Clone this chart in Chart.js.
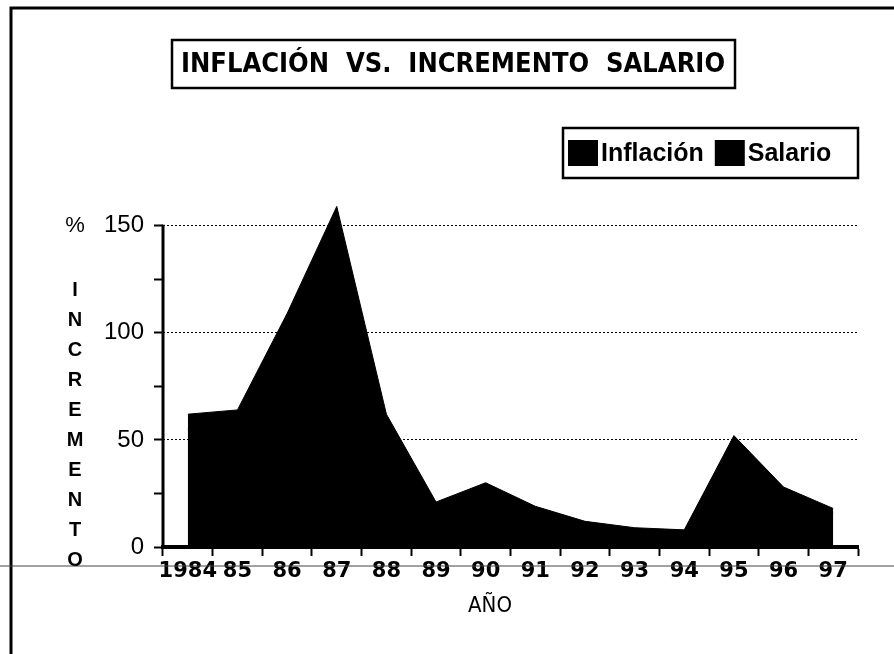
<!DOCTYPE html>
<html>
<head>
<meta charset="utf-8">
<script src="https://cdn.jsdelivr.net/npm/chart.js@4"></script>
<style>
  html, body { margin: 0; padding: 0; background: #fff; }
  #wrap { width: 894px; height: 654px; }
</style>
</head>
<body>
<div id="wrap"><canvas id="chart" width="894" height="654"></canvas></div>
<script>
// values (both series are printed solid black)
const years = ['1984', '85', '86', '87', '88', '89', '90', '91', '92', '93', '94', '95', '96', '97'];
const inflacion = [62, 64, 109, 159, 62, 21, 30, 19, 12, 9, 8, 52, 28, 18];
const salario = [55, 58, 95, 140, 55, 18, 26, 17, 11, 8, 7, 45, 25, 16];
const yTickValues = [0, 25, 50, 75, 100, 125, 150];
const yLabels = [0, 50, 100, 150];
const seriesNames = ['Inflación', 'Salario'];

const chartTitle = 'INFLACIÓN  VS.  INCREMENTO  SALARIO';
const yTitle = 'INCREMENTO';
const xTitle = 'AÑO';

const narrow = '"Liberation Sans Narrow", "DejaVu Sans Condensed", "Liberation Sans", sans-serif';
const sans = '"Liberation Sans", Arial, sans-serif';
const wide = '"DejaVu Sans", sans-serif';

const decorations = {
    id: 'decorations',
    beforeDraw(chart) {
        const ctx = chart.ctx;
        ctx.save();
        ctx.fillStyle = '#fff';
        ctx.fillRect(0, 0, chart.width, chart.height);
        ctx.restore();
    },
    afterDraw(chart) {
        const ctx = chart.ctx;
        const yScale = chart.scales.y;
        const axisX = yScale.right;
        ctx.save();
        ctx.strokeStyle = '#000';
        ctx.fillStyle = '#000';

        // y axis line, 0 to 150 only
        const yTop = yScale.getPixelForValue(150);
        const yBottom = yScale.getPixelForValue(0);
        ctx.fillRect(axisX - 1.5, yTop - 1, 3, yBottom - yTop + 3);

        // page frame
        ctx.lineWidth = 3;
        ctx.beginPath();
        ctx.moveTo(11, chart.height);
        ctx.lineTo(11, 8);
        ctx.lineTo(chart.width, 8);
        ctx.stroke();

        // fold line of the scan
        ctx.lineWidth = 1;
        ctx.strokeStyle = '#444';
        ctx.beginPath();
        ctx.moveTo(0, 566);
        ctx.lineTo(chart.width, 566);
        ctx.stroke();
        ctx.strokeStyle = '#000';

        // title box
        ctx.lineWidth = 2.5;
        ctx.strokeRect(172, 40, 563, 48);
        ctx.font = 'bold 27px ' + narrow;
        ctx.textAlign = 'center';
        ctx.textBaseline = 'middle';
        ctx.fillText(chartTitle, 453, 65);

        // legend box
        ctx.strokeRect(563, 128, 295, 50);
        ctx.font = 'bold 25px ' + sans;
        ctx.textAlign = 'left';
        let x = 568;
        chart.data.datasets.forEach(ds => {
            ctx.fillStyle = ds.backgroundColor;
            ctx.fillRect(x, 140, 30, 26);
            ctx.fillStyle = '#000';
            ctx.fillText(ds.label, x + 33, 154);
            x += 33 + ctx.measureText(ds.label).width + 11;
        });

        // y axis title: "%" then stacked letters
        ctx.textAlign = 'center';
        ctx.font = '22px ' + sans;
        ctx.fillText('%', 75, yTop);
        ctx.font = 'bold 20px ' + sans;
        yTitle.split('').forEach((ch, i) => {
            ctx.fillText(ch, 75, 290 + i * 30);
        });

        // x axis title
        ctx.font = '22px ' + narrow;
        ctx.fillText(xTitle, 490, 606);
        ctx.restore();
    }
};

new Chart(document.getElementById('chart'), {
    type: 'line',
    data: {
        labels: years,
        datasets: [
            {
                label: seriesNames[0],
                data: inflacion,
                borderColor: '#000',
                backgroundColor: '#000',
                borderWidth: 1,
                fill: 'origin',
                pointRadius: 0,
                tension: 0,
                clip: false,
            },
            {
                label: seriesNames[1],
                data: salario,
                borderColor: '#000',
                backgroundColor: '#000',
                borderWidth: 1,
                fill: 'origin',
                pointRadius: 0,
                tension: 0,
                clip: false,
            }
        ]
    },
    options: {
        responsive: false,
        animation: false,
        devicePixelRatio: 1,
        layout: { padding: { top: 200, left: 0, right: 36, bottom: 0 } },
        plugins: {
            legend: { display: false },
            title: { display: false },
            tooltip: { enabled: false },
        },
        scales: {
            x: {
                offset: true,
                afterFit(scale) { scale.height = 107; },
                grid: {
                    offset: true,
                    drawOnChartArea: false,
                    tickLength: 9,
                    tickWidth: 2,
                    tickColor: '#000',
                },
                border: { color: '#000', width: 4 },
                ticks: {
                    color: '#000',
                    font: { family: wide, size: 21, weight: 'bold' },
                    padding: 3,
                    maxRotation: 0,
                    autoSkip: false,
                },
            },
            y: {
                min: 0,
                max: 162,
                afterFit(scale) { scale.width = 163; },
                afterBuildTicks(scale) {
                    scale.ticks = yTickValues.map(v => ({ value: v }));
                },
                grid: {
                    color: ctx => (ctx.tick && yLabels.includes(ctx.tick.value) && ctx.tick.value > 0) ? '#000' : 'rgba(0,0,0,0)',
                    lineWidth: 1,
                    tickColor: '#000',
                    tickWidth: 2,
                    tickLength: 9,
                },
                border: { display: false, dash: [2, 2] },
                ticks: {
                    color: '#000',
                    padding: 10,
                    font: { family: sans, size: 24 },
                    callback: v => yLabels.includes(v) ? v : '',
                },
            }
        }
    },
    plugins: [decorations]
});
</script>
</body>
</html>
